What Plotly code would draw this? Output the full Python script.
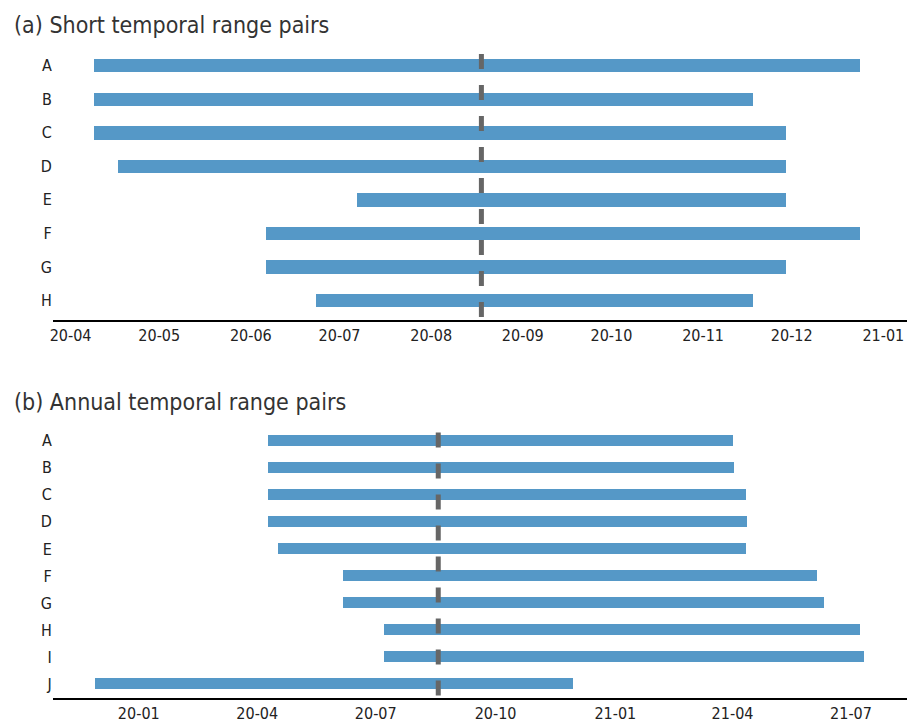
import pandas as pd
import plotly.graph_objects as go

# ---- data -------------------------------------------------------------
short_labels = ["A", "B", "C", "D", "E", "F", "G", "H"]
short_start = ["2020-04-09", "2020-04-09", "2020-04-09", "2020-04-17",
               "2020-07-07", "2020-06-06", "2020-06-06", "2020-06-23"]
short_end = ["2020-12-24", "2020-11-18", "2020-11-29", "2020-11-29",
             "2020-11-29", "2020-12-24", "2020-11-29", "2020-11-18"]

annual_labels = ["A", "B", "C", "D", "E", "F", "G", "H", "I", "J"]
annual_start = ["2020-04-09", "2020-04-09", "2020-04-09", "2020-04-09",
                "2020-04-17", "2020-06-06", "2020-06-06", "2020-07-07",
                "2020-07-07", "2019-11-28"]
annual_end = ["2021-04-01", "2021-04-02", "2021-04-11", "2021-04-12",
              "2021-04-11", "2021-06-05", "2021-06-10", "2021-07-08",
              "2021-07-11", "2020-11-29"]

reference_date = "2020-08-18"

short_ticks = ["2020-04-01", "2020-05-01", "2020-06-01", "2020-07-01",
               "2020-08-01", "2020-09-01", "2020-10-01", "2020-11-01",
               "2020-12-01", "2021-01-01"]
annual_ticks = ["2020-01-01", "2020-04-01", "2020-07-01", "2020-10-01",
                "2021-01-01", "2021-04-01", "2021-07-01"]

# ---- styling ----------------------------------------------------------
W, H = 907, 723
BAR = "#5598c7"
FONT = "DejaVu Sans Condensed, Liberation Sans Narrow, sans-serif"


def durations_ms(starts, ends):
    s = pd.to_datetime(starts)
    e = pd.to_datetime(ends)
    return [(b - a).total_seconds() * 1000 for a, b in zip(s, e)]


def ydom(top_px, bottom_px):
    return [1 - bottom_px / H, 1 - top_px / H]


fig = go.Figure()

fig.add_trace(go.Bar(
    y=short_labels, base=short_start, x=durations_ms(short_start, short_end),
    orientation="h", width=0.4, marker=dict(color=BAR, line=dict(width=0)),
    xaxis="x", yaxis="y", hoverinfo="skip", showlegend=False))

fig.add_trace(go.Bar(
    y=annual_labels, base=annual_start, x=durations_ms(annual_start, annual_end),
    orientation="h", width=0.4, marker=dict(color=BAR, line=dict(width=0)),
    xaxis="x2", yaxis="y2", hoverinfo="skip", showlegend=False))

xcommon = dict(type="date", domain=[50 / W, 1], showgrid=False, zeroline=False,
               showline=True, linecolor="black", linewidth=2, ticks="",
               ticklabeloverflow="allow",
               tickformat="%y-%m", tickfont=dict(family=FONT, size=16, color="#222"))
ycommon = dict(showgrid=False, zeroline=False, showline=False, ticks="",
               tickfont=dict(family=FONT, size=16, color="#222"))

fig.update_layout(
    width=W, height=H, margin=dict(l=0, r=0, t=0, b=0),
    plot_bgcolor="white", paper_bgcolor="white", bargap=0,
    xaxis=dict(xcommon, anchor="y", range=["2020-03-26", "2021-01-09"],
               tickvals=short_ticks),
    yaxis=dict(ycommon, anchor="x", domain=ydom(47, 320),
               categoryorder="array", categoryarray=short_labels,
               range=[7.568, -0.557]),
    xaxis2=dict(xcommon, anchor="y2", range=["2019-10-27", "2021-08-13"],
                tickvals=annual_ticks),
    yaxis2=dict(ycommon, anchor="x2", domain=ydom(426, 699),
                categoryorder="array", categoryarray=annual_labels,
                range=[9.51, -0.565]),
)

# dashed reference date in each panel
for xr, yr in (("x", "y domain"), ("x2", "y2 domain")):
    fig.add_shape(type="line", xref=xr, yref=yr,
                  x0=reference_date, x1=reference_date, y0=0.974, y1=0,
                  line=dict(color="#666666", width=5, dash="15px,16px"),
                  layer="above")

# panel titles
for text, ypx in (("(a) Short temporal range pairs", 25),
                  ("(b) Annual temporal range pairs", 403)):
    fig.add_annotation(text=text, xref="paper", yref="paper",
                       x=9 / W, y=1 - ypx / H, xanchor="left", yanchor="middle",
                       showarrow=False,
                       font=dict(family=FONT, size=23, color="#333"))

fig.write_html("out.html")
